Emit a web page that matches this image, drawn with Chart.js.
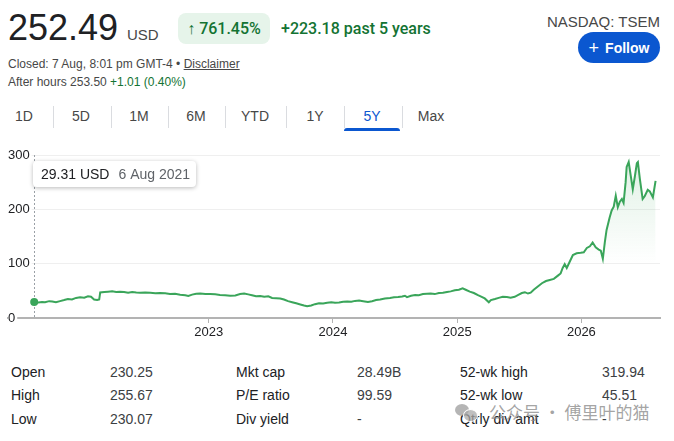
<!DOCTYPE html>
<html>
<head>
<meta charset="utf-8">
<script src="https://cdn.jsdelivr.net/npm/chart.js@4.4.1/dist/chart.umd.min.js"></script>
<style>
  html, body { margin: 0; padding: 0; background: #fff; }
  body { width: 674px; height: 441px; position: relative; overflow: hidden;
         font-family: "Liberation Sans", Arial, sans-serif; color: #202124; }
  .t { position: absolute; line-height: 1; white-space: nowrap; }
  .grey { color: #474747; }
  .green { color: #137333; }
  .medium { font-family: Roboto, "Liberation Sans", Arial, sans-serif; font-weight: 500; font-size: 16px; }
  .sep { position: absolute; top: 106px; width: 1px; height: 22px; background: #dadce0; }
  .tab { position: absolute; top: 109px; font-size: 14px; line-height: 1; color: #474747; transform: translateX(-50%); }
  #chartBox { position: absolute; left: 0; top: 140px; width: 674px; height: 206px; }
</style>
</head>
<body>
<div class="t" style="left:8px;top:10px;font-size:36px;">252.49</div>
<div class="t grey" style="left:127px;top:27px;font-size:15px;">USD</div>
<div style="position:absolute;left:178px;top:13px;width:92px;height:31px;border-radius:8px;background:#e6f4ea;display:flex;align-items:center;justify-content:center;">
  <span class="green medium" style="line-height:1;">↑ 761.45%</span>
</div>
<div class="t green medium" style="left:281px;top:21px;">+223.18 past 5 years</div>
<div class="t grey" style="right:14px;top:14px;font-size:15px;">NASDAQ: TSEM</div>
<div style="position:absolute;left:578px;top:32px;width:82px;height:31px;border-radius:16px;background:#0b57d0;color:#fff;display:flex;align-items:center;justify-content:center;font-size:14px;font-weight:bold;">
  <span style="font-size:18px;font-weight:normal;margin-right:6px;line-height:1;">+</span>Follow
</div>
<div class="t grey" style="left:8px;top:58px;font-size:12px;">Closed: 7 Aug, 8:01 pm GMT-4 • <span style="text-decoration:underline;">Disclaimer</span></div>
<div class="t grey" style="left:8px;top:76px;font-size:12px;">After hours 253.50 <span class="green">+1.01 (0.40%)</span></div>

<div id="tabs"></div>
<div style="position:absolute;left:344px;top:128px;width:56px;height:3px;background:#0b57d0;border-radius:3px 3px 0 0;"></div>

<div id="chartBox"><canvas id="tsemChart"></canvas></div>

<div id="stats"></div>

<div style="position:absolute;left:455px;top:404px;width:21px;height:17px;">
  <div style="position:absolute;left:0;top:0;width:14px;height:12px;border-radius:50%;background:rgba(150,150,150,0.7);"></div>
  <div style="position:absolute;left:8px;top:5px;width:13px;height:11px;border-radius:50%;background:rgba(170,170,170,0.75);border:1px solid #fff;"></div>
</div>
<div class="t" style="left:489px;top:403px;font-size:17px;font-family:'Noto Sans CJK SC',sans-serif;color:rgba(140,140,140,0.8);">公众号 · 傅里叶的猫</div>

<script>
var dates = [
  '2021-08-06','2021-08-18','2021-08-29','2021-09-07','2021-09-19','2021-09-28','2021-10-09','2021-10-21',
  '2021-11-02','2021-11-13','2021-11-25','2021-12-07','2021-12-19','2021-12-31','2022-01-11','2022-01-20',
  '2022-01-29','2022-02-07','2022-02-13','2022-02-16','2022-02-28','2022-03-11','2022-03-23','2022-04-04',
  '2022-04-15','2022-04-27','2022-05-09','2022-05-21','2022-06-02','2022-06-13','2022-06-28','2022-07-13',
  '2022-07-28','2022-08-11','2022-08-26','2022-09-09','2022-09-24','2022-10-09','2022-10-24','2022-11-02',
  '2022-11-13','2022-11-25','2022-12-07','2022-12-22','2023-01-05','2023-01-20','2023-02-03','2023-02-18',
  '2023-03-05','2023-03-20','2023-04-03','2023-04-15','2023-04-27','2023-05-08','2023-05-20','2023-06-01',
  '2023-06-13','2023-06-25','2023-07-06','2023-07-18','2023-07-30','2023-08-10','2023-08-22','2023-09-03',
  '2023-09-15','2023-09-27','2023-10-08','2023-10-17','2023-10-29','2023-11-09','2023-11-21','2023-12-03',
  '2023-12-15','2023-12-27','2024-01-07','2024-01-19','2024-01-31','2024-02-12','2024-02-24','2024-03-06',
  '2024-03-18','2024-03-30','2024-04-13','2024-04-25','2024-05-07','2024-05-19','2024-06-02','2024-06-17',
  '2024-06-29','2024-07-11','2024-07-23','2024-07-31','2024-08-06','2024-08-18','2024-08-30','2024-09-10',
  '2024-09-22','2024-10-04','2024-10-15','2024-10-27','2024-11-08','2024-11-20','2024-12-02','2024-12-13',
  '2024-12-25','2025-01-06','2025-01-17','2025-01-26','2025-02-07','2025-02-19','2025-03-03','2025-03-14',
  '2025-03-23','2025-04-04','2025-04-10','2025-04-22','2025-05-03','2025-05-15','2025-05-27','2025-06-07',
  '2025-06-19','2025-07-01','2025-07-10','2025-07-19','2025-07-28','2025-08-05','2025-08-14','2025-08-26',
  '2025-09-07','2025-09-19','2025-09-30','2025-10-12','2025-10-24','2025-11-01','2025-11-07','2025-11-13',
  '2025-11-19','2025-11-28','2025-12-07','2025-12-18','2025-12-30','2026-01-08','2026-01-17','2026-01-26',
  '2026-02-03','2026-02-12','2026-02-21','2026-02-27','2026-03-05','2026-03-11','2026-03-16','2026-03-25',
  '2026-03-31','2026-04-06','2026-04-12','2026-04-18','2026-04-24','2026-04-30','2026-05-05','2026-05-11',
  '2026-05-14','2026-05-20','2026-05-26','2026-06-01','2026-06-07','2026-06-13','2026-06-16','2026-06-22',
  '2026-06-30','2026-07-06','2026-07-15','2026-07-21','2026-07-30','2026-08-07'
]
var prices = [
  29.31, 28.5, 29.5, 29, 31, 30.5, 29, 31,
  33, 35, 34, 37, 38, 37.5, 40, 39,
  34, 33, 34, 47, 48, 48.5, 49, 48,
  48.5, 48, 46.5, 48, 47, 46.5, 47, 46.5,
  45.5, 46, 45.5, 44, 44.5, 43, 42, 40.5,
  43, 44.5, 45, 44, 44, 43.5, 42.5, 42,
  41, 41.5, 44, 45, 43.5, 42, 40, 40.5,
  39, 40, 37, 36.5, 36, 34, 31, 29,
  27, 25, 23, 21.5, 23, 25.5, 27, 26.5,
  28, 29, 28, 28.5, 30, 30.5, 30, 31.5,
  32, 31, 29.5, 31, 33, 34, 36, 37,
  38, 38.5, 39.5, 41, 38.5, 41, 42.5, 42,
  44, 44.5, 45, 44, 46, 46.5, 48, 49,
  51, 52, 54.6, 52, 48.5, 46, 42, 39,
  36, 29, 33, 35, 37, 39, 38.5, 37.5,
  39, 43, 46, 47.5, 45, 46.5, 52, 58,
  64, 68, 70, 72, 78, 82, 92, 99,
  92, 104, 116, 119, 120, 121, 129, 132,
  139, 130, 126, 124, 109, 140, 162, 185,
  198, 205, 225, 204, 214, 219, 212, 250,
  278, 287, 262, 237, 260, 285, 287, 255,
  219, 224, 236, 233, 222, 252.49
]
var yearTicks = [2023, 2024, 2025, 2026]
var priceTicks = [0, 100, 200, 300]
var axisStart = '2021-05-21'
var axisEnd = '2026-08-20'
var tabLabels = ['1D', '5D', '1M', '6M', 'YTD', '1Y', '5Y', 'Max']
var tabCenters = [24, 81, 139, 196, 255, 315, 372, 431]
var tabSeparators = [53, 111, 168, 225, 286, 344, 402]
var statLabels = [['Open', 'High', 'Low'], ['Mkt cap', 'P/E ratio', 'Div yield'], ['52-wk high', '52-wk low', 'Qtrly div amt']]
var statValues = [['230.25', '255.67', '230.07'], ['28.49B', '99.59', '-'], ['319.94', '45.51', '-']]

var monthNames = ['Jan', 'Feb', 'Mar', 'Apr', 'May', 'Jun', 'Jul', 'Aug', 'Sep', 'Oct', 'Nov', 'Dec']
var fontFamily = '"Liberation Sans", Arial, sans-serif'

function toYear(s) {
    var p = s.split('-').map(Number)
    var t = Date.UTC(p[0], p[1] - 1, p[2])
    var a = Date.UTC(p[0], 0, 1)
    var b = Date.UTC(p[0] + 1, 0, 1)
    return p[0] + (t - a) / (b - a)
}

function prettyDate(s) {
    var p = s.split('-').map(Number)
    return p[2] + ' ' + monthNames[p[1] - 1] + ' ' + p[0]
}

// tabs and stats are plain html
var tabsHtml = ''
tabLabels.forEach(function (label, i) {
    var col = label === '5Y' ? '#0b57d0' : '#474747'
    tabsHtml += '<div class="tab" style="left:' + tabCenters[i] + 'px;color:' + col + '">' + label + '</div>'
})
tabSeparators.forEach(function (x) {
    tabsHtml += '<div class="sep" style="left:' + x + 'px"></div>'
})
document.getElementById('tabs').innerHTML = tabsHtml

var labelX = [11, 236, 460]
var valueX = [110, 357, 602]
var rowTop = [365, 388, 412]
var statsHtml = ''
statLabels.forEach(function (col, c) {
    col.forEach(function (label, r) {
        statsHtml += '<div class="t" style="left:' + labelX[c] + 'px;top:' + rowTop[r] + 'px;font-size:14px;color:#202124">' + label + '</div>'
        statsHtml += '<div class="t" style="left:' + valueX[c] + 'px;top:' + rowTop[r] + 'px;font-size:14px;color:#3c4043">' + statValues[c][r] + '</div>'
    })
})
document.getElementById('stats').innerHTML = statsHtml

var lineColor = '#3aa55a'
var points = dates.map(function (d, i) { return { x: toYear(d), y: prices[i] } })

var hoverPlugin = {
    id: 'hoverPlugin',
    beforeDatasetsDraw: function (chart) {
        var p = chart.getDatasetMeta(0).data[0]
        var ctx = chart.ctx
        var x = Math.round(p.x) + 0.5
        ctx.save()
        ctx.setLineDash([2, 2])
        ctx.strokeStyle = '#9aa0a6'
        ctx.lineWidth = 1
        ctx.beginPath()
        ctx.moveTo(x, chart.chartArea.top)
        ctx.lineTo(x, chart.chartArea.bottom)
        ctx.stroke()
        ctx.restore()
    },
    afterDraw: function (chart) {
        var p = chart.getDatasetMeta(0).data[0]
        var ctx = chart.ctx
        var left = Math.round(p.x) - 1
        var top = chart.chartArea.top + 6
        var w = 163
        var h = 26
        ctx.save()
        ctx.shadowColor = 'rgba(0,0,0,0.28)'
        ctx.shadowBlur = 4
        ctx.shadowOffsetY = 1
        ctx.fillStyle = '#fff'
        ctx.beginPath()
        ctx.roundRect(left, top, w, h, 4)
        ctx.fill()
        ctx.restore()
        ctx.save()
        ctx.font = '14px ' + fontFamily
        ctx.textBaseline = 'alphabetic'
        ctx.fillStyle = '#202124'
        var first = prices[0].toFixed(2) + ' USD'
        ctx.fillText(first, left + 8, top + 18)
        ctx.fillStyle = '#5f6368'
        ctx.fillText(prettyDate(dates[0]), left + 8 + ctx.measureText(first).width + 9, top + 18)
        ctx.restore()
    }
}

var tsemCtx = document.getElementById('tsemChart').getContext('2d')

// eslint-disable-next-line no-unused-vars
var tsemChart = new Chart(tsemCtx, {
    type: 'line',
    data: {
        datasets: [
            {
                data: points,
                borderColor: lineColor,
                borderWidth: 2,
                tension: 0,
                pointRadius: points.map(function (p, i) { return i === 0 ? 4 : 0 }),
                pointBackgroundColor: lineColor,
                pointBorderWidth: 0,
                fill: 'origin',
                backgroundColor: function (c) {
                    var area = c.chart.chartArea
                    if (!area) return 'rgba(0,0,0,0)'
                    var yScale = c.chart.scales.y
                    var g = c.chart.ctx.createLinearGradient(0, area.top, 0, yScale.getPixelForValue(100))
                    g.addColorStop(0, 'rgba(58,165,90,0.16)')
                    g.addColorStop(1, 'rgba(58,165,90,0)')
                    return g
                }
            }
        ]
    },
    options: {
        responsive: true,
        maintainAspectRatio: false,
        animation: false,
        layout: { padding: { left: 8, right: 14, top: 15, bottom: 0 } },
        plugins: {
            legend: { display: false },
            tooltip: { enabled: false }
        },
        scales: {
            x: {
                type: 'linear',
                min: toYear(axisStart),
                max: toYear(axisEnd),
                afterBuildTicks: function (s) { s.ticks = yearTicks.map(function (v) { return { value: v } }) },
                afterFit: function (s) { s.height = 28 },
                grid: { drawOnChartArea: false, drawTicks: true, tickLength: 5, color: '#b3b3b3' },
                border: { display: true, color: '#b3b3b3', width: 2 },
                ticks: {
                    color: '#202124',
                    font: { family: fontFamily, size: 13 },
                    padding: 2,
                    maxRotation: 0,
                    autoSkip: false,
                    callback: function (v) { return String(v) }
                }
            },
            y: {
                min: priceTicks[0],
                max: priceTicks[priceTicks.length - 1],
                afterBuildTicks: function (s) { s.ticks = priceTicks.map(function (v) { return { value: v } }) },
                afterFit: function (s) { s.width = 0 },
                grid: {
                    drawTicks: false,
                    color: function (c) { return c.tick && c.tick.value === 0 ? 'rgba(0,0,0,0)' : '#efefef' }
                },
                border: { display: false },
                ticks: {
                    mirror: true,
                    padding: 0,
                    z: 1,
                    color: '#202124',
                    font: { family: fontFamily, size: 13 },
                    showLabelBackdrop: true,
                    backdropColor: '#fff',
                    backdropPadding: { top: 0, bottom: 0, left: 0, right: 2 }
                }
            }
        }
    },
    plugins: [hoverPlugin]
})
</script>
</body>
</html>
